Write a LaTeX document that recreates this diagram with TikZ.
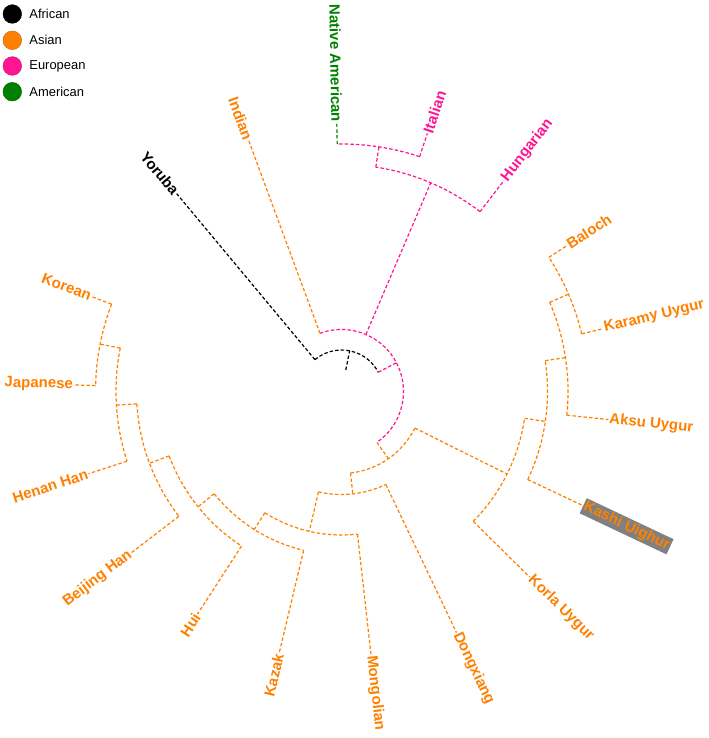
\documentclass[tikz,border=0pt]{standalone}
\usepackage{fontspec}
\setmainfont{Liberation Sans}
\usetikzlibrary{positioning}
\definecolor{TRblack}{RGB}{0,0,0}
\definecolor{TRasia}{RGB}{255,128,0}
\definecolor{TReuro}{RGB}{255,20,147}
\definecolor{TRamer}{RGB}{0,128,0}
\definecolor{TRbox}{RGB}{128,128,128}
\tikzset{
  br/.style={line width=0.9pt,dash pattern=on 2.6pt off 1.6pt},
  tip/.style={font=\fontsize{11.25}{13}\selectfont\bfseries,inner sep=0.6pt},
  tipR/.style={tip,anchor=west},
  tipL/.style={tip,anchor=east},
  legdot/.style={circle,minimum size=14pt,inner sep=0pt,fill=#1,draw=#1!75!black,line width=0.3pt},
  legtxt/.style={font=\fontsize{9.7}{11}\selectfont,inner sep=1pt}
}

\begin{document}
\begin{tikzpicture}[x=0.75pt,y=0.75pt]
  \useasboundingbox (-341.5,-346.5) rectangle (367.5,391.5);
  % legend
  \node[legdot=TRblack] (lgAfr) at (-329.2,377.5) {};
  \node[legdot=TRasia] (lgAsi) at (-329.2,351.2) {};
  \node[legdot=TReuro] (lgEur) at (-329.2,325.5) {};
  \node[legdot=TRamer] (lgAme) at (-329.2,299.8) {};
  \node[legtxt,right=4.5pt of lgAfr] (lgAfrT) {African};
  \node[legtxt,right=4.5pt of lgAsi] (lgAsiT) {Asian};
  \node[legtxt,right=4.5pt of lgEur] (lgEurT) {European};
  \node[legtxt,right=4.5pt of lgAme] (lgAmeT) {American};

  % root
  \coordinate (r0) at (78.7:22);
  \coordinate (root) at (78.7:41.5);
  \coordinate (yorB) at (129.8:41.5);
  \draw[br,TRblack] (r0) -- (root);
  \draw[br,TRblack] (yorB) arc[start angle=129.8,end angle=27.6,radius=41.5];
  \node[tipL,TRblack,rotate=-50.2] (yoruba) at (129.8:257.5) {Yoruba};
  \draw[br,TRblack] (yorB) -- (yoruba.east);

  % non-African clade
  \coordinate (n1in) at (27.6:41.5);
  \coordinate (n1) at (27.6:62);
  \coordinate (indB) at (110.3:62);
  \draw[br,TReuro] (n1in) -- (n1);
  \draw[br,TReuro] (indB) arc[start angle=110.3,end angle=-55.1,radius=62];
  \node[tipL,TRasia,rotate=-69.7] (indian) at (110.3:268) {Indian};
  \draw[br,TRasia] (indB) -- (indian.east);

  % European / American
  \coordinate (e1in) at (66.85:62);
  \coordinate (e1) at (66.85:227);
  \coordinate (hunB) at (52.4:227);
  \coordinate (e2in) at (81.3:227);
  \coordinate (e2) at (81.3:247.5);
  \coordinate (itaB) at (71.6:247.5);
  \coordinate (natB) at (91:247.5);
  \draw[br,TReuro] (e1in) -- (e1);
  \draw[br,TReuro] (hunB) arc[start angle=52.4,end angle=81.3,radius=227];
  \draw[br,TReuro] (e2in) -- (e2);
  \draw[br,TReuro] (itaB) arc[start angle=71.6,end angle=91,radius=247.5];
  \node[tipR,TReuro,rotate=52.4] (hungarian) at (52.4:266.3) {Hungarian};
  \node[tipR,TReuro,rotate=71.6] (italian) at (71.6:272) {Italian};
  \node[tipL,TRamer,rotate=-89] (native) at (91:268.5) {Native American};
  \draw[br,TReuro] (hunB) -- (hungarian.west);
  \draw[br,TReuro] (itaB) -- (italian.west);
  \draw[br,TRamer] (natB) -- (native.east);

  % Asian clade
  \coordinate (n2in) at (-55.1:62);
  \coordinate (n2) at (-55.1:82);
  \coordinate (n3in) at (-83.7:82);
  \draw[br,TRasia] (n2in) -- (n2);
  \draw[br,TRasia] (n3in) arc[start angle=-83.7,end angle=-26.5,radius=82];

  % Uygur group
  \coordinate (u1in) at (-26.5:82);
  \coordinate (u1) at (-26.5:185);
  \coordinate (korlaB) at (-44.6:185);
  \coordinate (u2in) at (-8.35:185);
  \coordinate (u2) at (-8.35:206);
  \coordinate (kasB) at (-25.3:206);
  \coordinate (u3in) at (8.6:206);
  \coordinate (u3) at (8.6:226.5);
  \coordinate (aksB) at (-6:226.5);
  \coordinate (u4in) at (23.2:226.5);
  \coordinate (u4) at (23.2:247);
  \coordinate (karB) at (13.5:247);
  \coordinate (balB) at (32.9:247);
  \draw[br,TRasia] (u1in) -- (u1);
  \draw[br,TRasia] (korlaB) arc[start angle=-44.6,end angle=-8.35,radius=185];
  \draw[br,TRasia] (u2in) -- (u2);
  \draw[br,TRasia] (kasB) arc[start angle=-25.3,end angle=8.6,radius=206];
  \draw[br,TRasia] (u3in) -- (u3);
  \draw[br,TRasia] (aksB) arc[start angle=-6,end angle=23.2,radius=226.5];
  \draw[br,TRasia] (u4in) -- (u4);
  \draw[br,TRasia] (karB) arc[start angle=13.5,end angle=32.9,radius=247];
  \node[tipR,TRasia,rotate=-44.6] (korla) at (-44.6:264.3) {Korla Uygur};
  \node[tipR,TRasia,rotate=-25.3,fill=TRbox,inner sep=1pt] (kashi) at (-25.3:267.1) {Kashi Uighur};
  \node[tipR,TRasia,rotate=-6] (aksu) at (-6:268.3) {Aksu Uygur};
  \node[tipR,TRasia,rotate=13.5] (karamy) at (13.5:269.3) {Karamy Uygur};
  \node[tipR,TRasia,rotate=32.9] (baloch) at (32.9:268.6) {Baloch};
  \draw[br,TRasia] (korlaB) -- (korla.west);
  \draw[br,TRasia] (kasB) -- (kashi.west);
  \draw[br,TRasia] (aksB) -- (aksu.west);
  \draw[br,TRasia] (karB) -- (karamy.west);
  \draw[br,TRasia] (balB) -- (baloch.west);

  % East Asian group
  \coordinate (n3) at (-83.7:103);
  \coordinate (n4in) at (-102.95:103);
  \coordinate (donB) at (-64.5:103);
  \coordinate (n4) at (-102.95:143.5);
  \coordinate (n5in) at (-122.3:143.5);
  \coordinate (monB) at (-83.6:143.5);
  \coordinate (n5) at (-122.3:163.3);
  \coordinate (n6in) at (-141.2:163.3);
  \coordinate (kazB) at (-103.4:163.3);
  \coordinate (n6) at (-141.2:184);
  \coordinate (hjkbin) at (-159.5:184);
  \coordinate (huiB) at (-122.9:184);
  \coordinate (hjkb) at (-159.5:205);
  \coordinate (hjkin) at (-176.55:205);
  \coordinate (beiB) at (-142.5:205);
  \coordinate (hjk) at (-176.55:225.5);
  \coordinate (jkin) at (-191.1:225.5);
  \coordinate (henB) at (-162:225.5);
  \coordinate (jk) at (-191.1:246);
  \coordinate (koreB) at (-200.8:246);
  \coordinate (japB) at (-181.4:246);
  \draw[br,TRasia] (n3in) -- (n3);
  \draw[br,TRasia] (n4in) arc[start angle=-102.95,end angle=-64.5,radius=103];
  \draw[br,TRasia] (n4in) -- (n4);
  \draw[br,TRasia] (n5in) arc[start angle=-122.3,end angle=-83.6,radius=143.5];
  \draw[br,TRasia] (n5in) -- (n5);
  \draw[br,TRasia] (n6in) arc[start angle=-141.2,end angle=-103.4,radius=163.3];
  \draw[br,TRasia] (n6in) -- (n6);
  \draw[br,TRasia] (hjkbin) arc[start angle=-159.5,end angle=-122.9,radius=184];
  \draw[br,TRasia] (hjkbin) -- (hjkb);
  \draw[br,TRasia] (hjkin) arc[start angle=-176.55,end angle=-142.5,radius=205];
  \draw[br,TRasia] (hjkin) -- (hjk);
  \draw[br,TRasia] (jkin) arc[start angle=-191.1,end angle=-162,radius=225.5];
  \draw[br,TRasia] (jkin) -- (jk);
  \draw[br,TRasia] (koreB) arc[start angle=-200.8,end angle=-181.4,radius=246];
  \node[tipR,TRasia,rotate=-64.5] (dongxiang) at (-64.5:267.1) {Dongxiang};
  \node[tipR,TRasia,rotate=-83.6] (mongolian) at (-83.6:265) {Mongolian};
  \node[tipL,TRasia,rotate=76.6] (kazak) at (-103.4:269) {Kazak};
  \node[tipL,TRasia,rotate=57.1] (hui) at (-122.9:265) {Hui};
  \node[tipL,TRasia,rotate=37.5] (beijing) at (-142.5:265) {Beijing Han};
  \node[tipL,TRasia,rotate=18] (henan) at (-162:266) {Henan Han};
  \node[tipL,TRasia,rotate=-1.4] (japanese) at (-181.4:267.6) {Japanese};
  \node[tipL,TRasia,rotate=-20.8] (korean) at (-200.8:267.2) {Korean};
  \draw[br,TRasia] (donB) -- (dongxiang.west);
  \draw[br,TRasia] (monB) -- (mongolian.west);
  \draw[br,TRasia] (kazB) -- (kazak.east);
  \draw[br,TRasia] (huiB) -- (hui.east);
  \draw[br,TRasia] (beiB) -- (beijing.east);
  \draw[br,TRasia] (henB) -- (henan.east);
  \draw[br,TRasia] (japB) -- (japanese.east);
  \draw[br,TRasia] (koreB) -- (korean.east);
\end{tikzpicture}
\end{document}
